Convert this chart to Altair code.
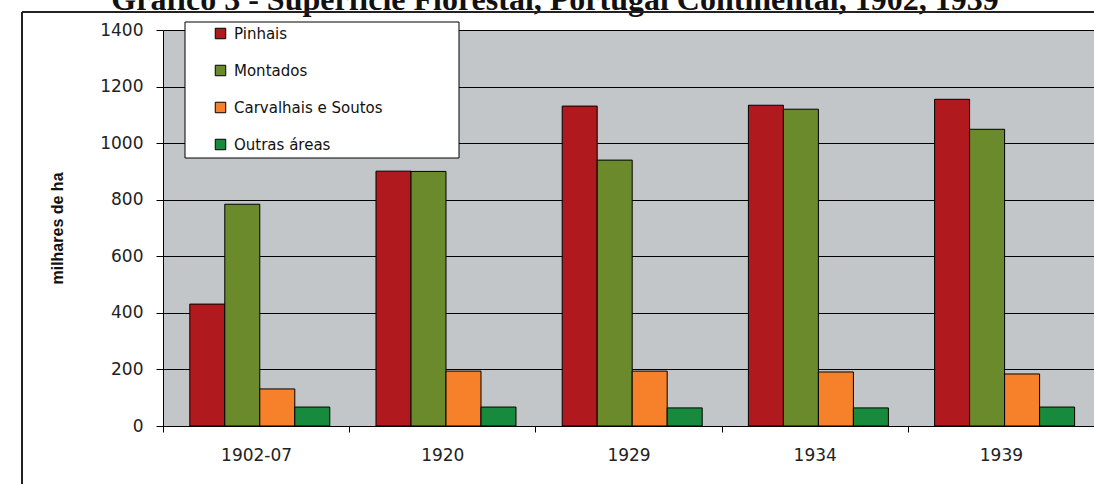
import altair as alt
import pandas as pd

periods = ["1902-07", "1920", "1929", "1934", "1939"]
series = ["Pinhais", "Montados", "Carvalhais e Soutos", "Outras áreas"]
pinhais = [431, 901, 1131, 1134, 1155]
montados = [784, 900, 940, 1120, 1049]
carvalhais = [131, 194, 194, 191, 184]
outras = [67, 67, 64, 64, 67]
colors = ["#b01a1e", "#6a8a2c", "#f7802a", "#178a3e"]
y_ticks = [0, 200, 400, 600, 800, 1000, 1200, 1400]
title_text = "Gráfico 3 - Superfície Florestal, Portugal Continental, 1902, 1939"
y_title = "milhares de ha"

rows = []
for name, vals in zip(series, [pinhais, montados, carvalhais, outras]):
    for p, v in zip(periods, vals):
        rows.append({"periodo": p, "serie": name, "valor": v})
df = pd.DataFrame(rows)

W, H = 931, 396
FONT = "DejaVu Sans"

bars = alt.Chart(df).mark_bar(stroke="black", strokeWidth=1).encode(
    x=alt.X("periodo:N", sort=periods, title=None,
            scale=alt.Scale(paddingInner=0, paddingOuter=0),
            axis=alt.Axis(labelAngle=0, tickBand="extent", tickSize=6, tickColor="black",
                          domainColor="black", labelFont=FONT, labelFontSize=17,
                          labelColor="#222", labelPadding=15, grid=False)),
    xOffset=alt.XOffset("serie:N", sort=series,
                        scale=alt.Scale(paddingInner=0, paddingOuter=0.66, align=0.58)),
    y=alt.Y("valor:Q", title=y_title,
            scale=alt.Scale(domain=[0, 1400], nice=False),
            axis=alt.Axis(values=y_ticks, format="d", tickSize=7, tickColor="black",
                          domainColor="black", gridColor="black", gridWidth=1, grid=True,
                          labelFont=FONT, labelFontSize=17, labelColor="#222", labelPadding=13,
                          titleFont="Liberation Sans", titleFontSize=16, titleFontWeight="bold",
                          titleColor="#111", titlePadding=34)),
    color=alt.Color("serie:N", sort=series,
                    scale=alt.Scale(domain=series, range=colors),
                    legend=alt.Legend(title=None, orient="none", legendX=50, legendY=-4,
                                      symbolType="square", symbolSize=110,
                                      symbolStrokeColor="black", symbolStrokeWidth=1,
                                      labelFont=FONT, labelFontSize=15, labelColor="#111",
                                      labelOffset=6, rowPadding=21, padding=0)),
)

legend_box = alt.Chart(pd.DataFrame({"k": [0]})).mark_rect(
    fill="white", stroke="black", strokeWidth=1
).encode(x=alt.value(22), x2=alt.value(296), y=alt.value(-8), y2=alt.value(128))

title = alt.Chart(pd.DataFrame({"t": [title_text]})).mark_text(
    font="Liberation Serif", fontSize=32, fontWeight="bold", baseline="alphabetic",
    align="center", color="#111"
).encode(text="t:N", x=alt.value(392), y=alt.value(-20))

frame_left = alt.Chart(pd.DataFrame({"k": [0]})).mark_rule(color="#222", strokeWidth=2).encode(
    x=alt.value(-141), y=alt.value(-18), y2=alt.value(460))
frame_top = alt.Chart(pd.DataFrame({"k": [0]})).mark_rule(color="#222", strokeWidth=2).encode(
    x=alt.value(-141), x2=alt.value(940), y=alt.value(-18))

chart = alt.layer(bars, legend_box, title, frame_left, frame_top).properties(
    width=W, height=H,
    autosize=alt.AutoSizeParams(type="none"),
    padding={"left": 163, "top": 30, "right": 0, "bottom": 58},
    background="white",
).configure_view(fill="#c2c6c9", stroke=None)

chart.save("out.html", embed_options={"renderer": "svg", "actions": False})
